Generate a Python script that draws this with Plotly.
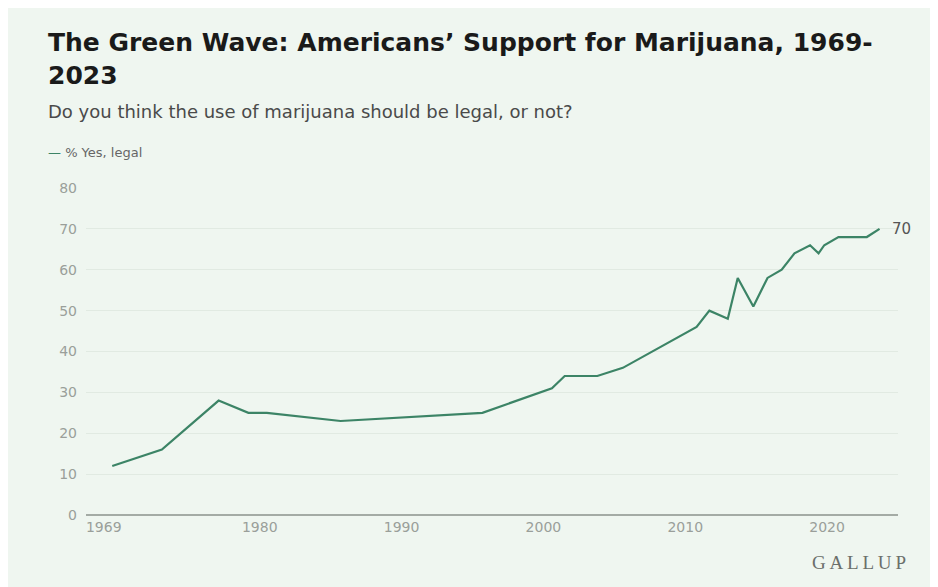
import plotly.graph_objects as go

# Survey dates (fractional years, as placed in the chart) and % saying legal
years = [1969.6, 1972.2, 1973.1, 1977.1, 1979.2, 1980.5, 1985.7, 1995.7,
         2000.6, 2001.5, 2003.8, 2005.6, 2009.8, 2010.8, 2011.7, 2013.0,
         2013.7, 2014.8, 2015.8, 2016.8, 2017.7, 2018.8, 2019.4, 2019.8,
         2020.8, 2022.8, 2023.7]
pct_legal = [12, 15, 16, 28, 25, 25, 23, 25,
             31, 34, 34, 36, 44, 46, 50, 48,
             58, 51, 58, 60, 64, 66, 64, 66,
             68, 68, 70]

x_tick_vals = [1969, 1980, 1990, 2000, 2010, 2020]
x_tick_text = ["1969", "1980", "1990", "2000", "2010", "2020"]
y_tick_vals = [0, 10, 20, 30, 40, 50, 60, 70, 80]

title_text = "The Green Wave: Americans\u2019 Support for Marijuana, 1969-<br>2023"
subtitle_text = "Do you think the use of marijuana should be legal, or not?"
series_name = "% Yes, legal"

BG = "#EFF6F0"
GREEN = "#3C8466"
OFF = 8  # page body margin
W, H = 938, 587
L, R, T, B = 78, 48, 180, 80
PW, PH = W - L - R, H - T - B


def px(x):
    return (x - OFF - L) / PW


def py(y):
    return (H - B - (y - OFF)) / PH


fig = go.Figure()
fig.add_trace(go.Scatter(
    x=years, y=pct_legal, mode="lines", name=series_name,
    line=dict(color=GREEN, width=2.2), showlegend=False,
    hovertemplate="%{x:.0f}: %{y}%<extra></extra>",
))

fig.update_layout(
    width=W, height=H,
    margin=dict(l=L, r=R, t=T, b=B),
    paper_bgcolor=BG, plot_bgcolor=BG,
    font=dict(family="DejaVu Sans", color="#555"),
    xaxis=dict(
        range=[1967.75, 2025.0], tickvals=x_tick_vals, ticktext=x_tick_text,
        showgrid=False, zeroline=False, showline=False, ticks="",
        tickfont=dict(size=14, color="#9a9f9a"), ticklabelstandoff=2,
        fixedrange=True,
    ),
    yaxis=dict(
        range=[0, 80], tickvals=y_tick_vals, showgrid=True,
        gridcolor="#E1EAE2", gridwidth=1, zeroline=True,
        zerolinecolor="#A4ABA5", zerolinewidth=1.5, showline=False, ticks="",
        tickfont=dict(size=14, color="#9a9f9a"), ticklabelstandoff=8,
        fixedrange=True,
    ),
    annotations=[
        dict(text="<b>" + title_text + "</b>", xref="paper", yref="paper",
             x=px(46), y=py(58.5), xanchor="left", yanchor="middle",
             align="left", showarrow=False,
             font=dict(size=25, color="#1a1a1a", family="DejaVu Sans")),
        dict(text=subtitle_text, xref="paper", yref="paper",
             x=px(46), y=py(111), xanchor="left", yanchor="middle",
             showarrow=False, font=dict(size=18, color="#4a4a4a")),
        dict(text="<span style='color:%s'>\u2014</span> %s" % (GREEN, series_name),
             xref="paper", yref="paper", x=px(46), y=py(153),
             xanchor="left", yanchor="middle", showarrow=False,
             font=dict(size=13, color="#666")),
        dict(text=str(pct_legal[-1]), xref="x", yref="y",
             x=years[-1], y=pct_legal[-1], xanchor="left", yanchor="middle",
             xshift=10, showarrow=False, font=dict(size=15, color="#555")),
        dict(text="G\u2009A\u2009L\u2009L\u2009U\u2009P", xref="paper", yref="paper",
             x=px(859), y=py(562), xanchor="center", yanchor="middle",
             showarrow=False,
             font=dict(size=19, color="#6b6f6b", family="Liberation Serif")),
    ],
)

fig.write_html("out.html")
